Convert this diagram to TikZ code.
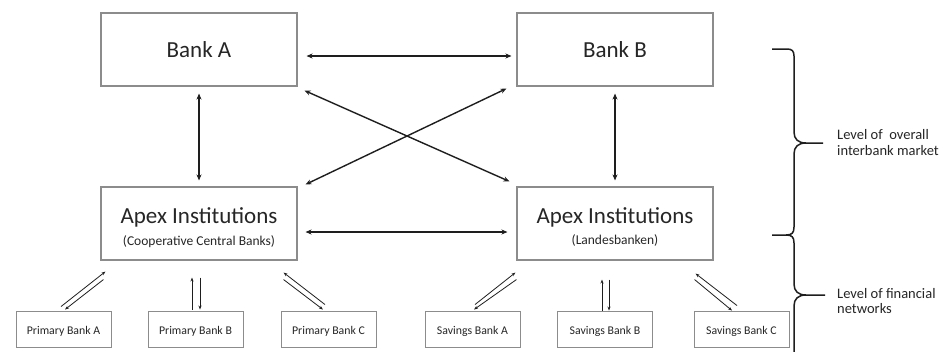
\documentclass[tikz,border=0pt]{standalone}
\usepackage{fontspec}
\setmainfont{Carlito}
\usetikzlibrary{arrows.meta,calc}
\definecolor{txt}{HTML}{262626}
\definecolor{boxc}{HTML}{8C8C8C}
\definecolor{linec}{HTML}{1E1E1E}
\tikzset{
  bigbox/.style={draw=boxc,line width=1.1pt,minimum width=196pt,minimum height=73pt,inner sep=0pt},
  smallbox/.style={draw=boxc,line width=0.9pt,minimum width=95pt,minimum height=36pt,inner sep=0pt},
  bigtxt/.style={text=txt,anchor=base,font=\fontsize{23}{26}\selectfont,inner sep=0pt},
  subtxt/.style={text=txt,anchor=base,font=\fontsize{13.5}{16}\selectfont,inner sep=0pt},
  smalltxt/.style={text=txt,anchor=base,font=\fontsize{11.8}{14}\selectfont,inner sep=0pt},
  lvltxt/.style={text=txt,anchor=base west,font=\fontsize{14.5}{16}\selectfont,inner sep=0pt},
  arr/.style={draw=linec,line width=1.4pt,{Stealth[length=6pt,width=5pt]}-{Stealth[length=6pt,width=5pt]}},
  thinarr/.style={draw=linec,line width=0.8pt,-{Stealth[length=4pt,width=3pt]}},
  bracec/.style={draw=linec,line width=1.5pt,line join=round}
}
\begin{document}
\begin{tikzpicture}[x=1pt,y=-1pt]
\useasboundingbox[fill=white] (0,0) rectangle (950,351);
% top boxes
\node[bigbox] (bankA) at (199,49.5) {};
\node[bigbox] (bankB) at (615,49.5) {};
\node[bigtxt] (tA) at (199,57) {Bank A};
\node[bigtxt] (tB) at (615,57) {Bank B};
% apex boxes
\node[bigbox] (apexL) at (199,223.5) {};
\node[bigbox] (apexR) at (615,223.5) {};
\node[bigtxt] (tL1) at (199,223) {Apex Institutions};
\node[subtxt] (tL2) at (199,245.5) {(Cooperative Central Banks)};
\node[bigtxt] (tR1) at (615,223) {Apex Institutions};
\node[subtxt] (tR2) at (615,244.5) {(Landesbanken)};
% bottom boxes
\node[smallbox] (pA) at (63.5,329) {};
\node[smallbox] (pB) at (195.5,329) {};
\node[smallbox] (pC) at (328.5,329) {};
\node[smallbox] (sA) at (472.5,329) {};
\node[smallbox] (sB) at (605,329) {};
\node[smallbox] (sC) at (741.5,329) {};
\node[smalltxt] at (63.5,334) {Primary Bank A};
\node[smalltxt] at (195.5,334) {Primary Bank B};
\node[smalltxt] at (328.5,334) {Primary Bank C};
\node[smalltxt] at (472.5,334) {Savings Bank A};
\node[smalltxt] at (605,334) {Savings Bank B};
\node[smalltxt] at (741.5,334) {Savings Bank C};
% big arrows
\draw[arr] ($(bankA.east)+(9,6.5)$) -- ($(bankB.west)+(-5,6.5)$);
\draw[arr] ($(apexL.east)+(8,8.5)$) -- ($(apexR.west)+(-9,8.5)$);
\draw[arr] ($(bankA.south)+(0,7)$) -- ($(apexL.north)+(0,-6)$);
\draw[arr] ($(bankB.south)+(0,7)$) -- ($(apexR.north)+(0,-6)$);
\draw[arr] ($(bankA.south east)+(7,4)$) -- ($(apexR.north west)+(-7,-5)$);
\draw[arr] ($(bankB.south west)+(-10,2)$) -- ($(apexL.north east)+(8,-2)$);
% small arrows: primary banks
\draw[thinarr] ($(pA.north)+(-2.5,-4)$) -- ($(apexL.south west)+(5,11)$);
\draw[thinarr] ($(apexL.south west)+(3,19)$) -- ($(pA.north)+(1.5,-1)$);
\draw[thinarr] ($(pB.north)+(-3.5,-1)$) -- ($(apexL.south)+(-7,17)$);
\draw[thinarr] ($(apexL.south)+(1,17)$) -- ($(pB.north)+(4.5,-1)$);
\draw[thinarr] ($(pC.north)+(-3.5,-6)$) -- ($(apexL.south east)+(-14,12)$);
\draw[thinarr] ($(apexL.south east)+(-14,19)$) -- ($(pC.north)+(-5.5,-1)$);
% small arrows: savings banks
\draw[thinarr] ($(sA.north)+(2.5,-6)$) -- ($(apexR.south west)+(-1,12)$);
\draw[thinarr] ($(apexR.south west)+(0,19)$) -- ($(sA.north)+(1.5,-1)$);
\draw[thinarr] ($(sB.north)+(-3,0)$) -- ($(apexR.south)+(-13,19)$);
\draw[thinarr] ($(apexR.south)+(-6,19)$) -- ($(sB.north)+(4,0)$);
\draw[thinarr] ($(sC.north)+(-4.5,-5)$) -- ($(apexR.south east)+(-18,13)$);
\draw[thinarr] ($(apexR.south east)+(-19,19)$) -- ($(sC.north)+(-9.5,0)$);
% braces
\draw[bracec] (772,49) -- (787,49) .. controls (792,49) and (794,51) .. (794,56)
  -- (794,132) .. controls (794,139) and (798,143) .. (806,143) -- (823,143);
\draw[bracec] (806,143) .. controls (798,143) and (794,147) .. (794,154)
  -- (794,227) .. controls (794,233) and (792,235) .. (786,235) -- (772,235);
\draw[bracec] (786,235) .. controls (792,235) and (794,237) .. (794,243)
  -- (794,284) .. controls (794,291) and (798,295) .. (806,295) -- (825,295);
\draw[bracec] (806,295) .. controls (798,295) and (794,299) .. (794,306)
  -- (794,360);
% level labels
\node[lvltxt] (l1) at (837,139) {Level of\ \ overall};
\node[lvltxt] (l2) at (837,155) {interbank market};
\node[lvltxt] (l3) at (837,298) {Level of financial};
\node[lvltxt] (l4) at (837,313) {networks};
\end{tikzpicture}
\end{document}
